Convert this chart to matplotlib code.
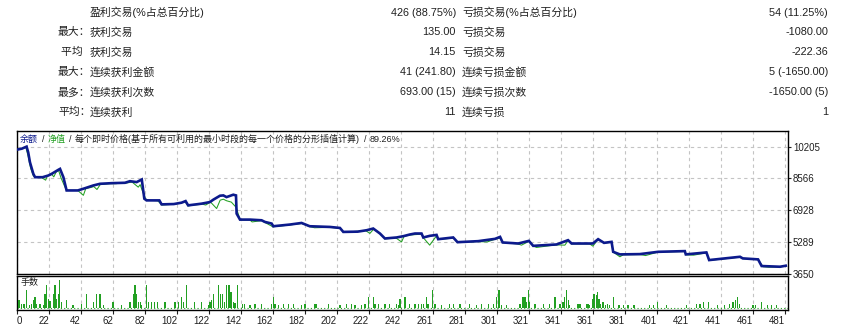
import matplotlib
matplotlib.use('Agg')
import matplotlib.pyplot as plt

plt.rcParams['font.family'] = ['Liberation Sans', 'Noto Sans CJK SC', 'DejaVu Sans']

# ---------------- data ----------------
left_prefix = ['', '最大：', ' 平均', '最大：', '最多：', '平均：']
left_labels = ['盈利交易(%占总百分比)', '获利交易', '获利交易', '连续获利金额', '连续获利次数', '连续获利']
left_values = ['426 (88.75%)', '135.00', '14.15', '41 (241.80)', '693.00 (15)', '11']
right_labels = ['亏损交易(%占总百分比)', '亏损交易', '亏损交易', '连续亏损金额', '连续亏损次数', '连续亏损']
right_values = ['54 (11.25%)', '-1080.00', '-222.36', '5 (-1650.00)', '-1650.00 (5)', '1']

title_parts = ['余额', '/', '净值', '/', '每个即时价格(基于所有可利用的最小时段的每一个价格的分形插值计算)', '/', '89.26%']

bal_x = [2, 5, 8, 9, 10.1, 12.2, 13.3, 18, 21.6, 23.7, 27.8, 28.9, 31, 33, 40, 43.5, 49.7, 53.9,
         61.2, 69.5, 72.6, 76.8, 80, 81.6, 83, 91, 92.4, 100, 104.9, 107.4, 109, 117.4, 122.6,
         124.7, 128.9, 131, 133, 137.2, 138.9, 139.3, 141.4, 147.6, 154.9, 157, 161.2, 162.2,
         172.6, 179.9, 185, 197.6, 203.9, 206, 215, 220.6, 224.7, 228.9, 232, 239.3, 243.5,
         247.6, 250.8, 254.9, 256, 260, 264.3, 265.3, 274.7, 277.4, 290.3, 300.8, 304, 305.6,
         315.4, 322, 324.7, 339.3, 346.5, 348.7, 362, 365.3, 369, 373.7, 374.7, 378.9, 391.4,
         402.8, 419.5, 420.1, 433, 434.7, 454, 455.7, 465.3, 467.5, 479, 482.6]
bal_y = [10050, 10100, 10205, 9912, 9400, 8806, 8632, 8632, 8720, 8806, 9010, 9060, 8632, 7950,
         7950, 8038, 8207, 8293, 8325, 8345, 8427, 8380, 8514, 7526, 7439, 7439, 7234, 7250,
         7321, 7403, 7183, 7270, 7352, 7474, 7679, 7695, 7608, 7731, 7695, 6758, 6450, 6450,
         6415, 6330, 6246, 6108, 6195, 6277, 6108, 6072, 6020, 5816, 5830, 5903, 5990, 5734,
         5478, 5530, 5596, 5683, 5734, 5734, 5530, 5613, 5662, 5442, 5530, 5288, 5340, 5458,
         5560, 5273, 5220, 5355, 5099, 5170, 5391, 5220, 5220, 5442, 5253, 5304, 4792, 4659,
         4674, 4792, 4828, 4659, 4760, 4367, 4536, 4454, 4402, 4060, 4024, 4075]

eq_x = [2, 5, 7.5, 9, 10.5, 12.2, 13.5, 17, 19.9, 21, 23.7, 25, 26.5, 28, 29.5, 32, 33.5, 40,
        43.5, 45, 48, 50, 52, 54, 60, 64, 68, 70, 74, 77.8, 79, 80.5, 82.5, 85, 90, 92.5, 100,
        104, 107, 109, 112, 118, 120, 123, 126.8, 129, 131, 133, 136, 139, 141.5, 147.6, 149,
        155, 157, 162, 170, 173, 180, 185, 188, 198, 204, 206, 215, 220, 222.6, 225, 229, 232,
        239, 242.4, 244, 248, 255, 256, 260, 264.3, 265.3, 275, 277.4, 290, 296, 300.8, 304,
        305.6, 315, 317.4, 322, 324.7, 326.8, 339, 344.5, 346.5, 348.7, 360, 362, 365.3, 369,
        373.7, 374.7, 378.9, 381, 391.4, 395, 402.8, 419.5, 420.1, 425, 433, 434.7, 454, 455.7,
        465.3, 468.5, 472, 479, 482.6]
eq_y = [10050, 10100, 10180, 9700, 9100, 8700, 8632, 8632, 8480, 8700, 8780, 8650, 8900, 8980,
        8600, 8120, 7950, 7950, 7700, 8050, 8100, 8150, 8000, 8250, 8300, 8300, 8350, 8330,
        8380, 8120, 8250, 7900, 7500, 7440, 7420, 7200, 7240, 7300, 7380, 7150, 7200, 7240,
        7200, 7350, 7020, 7450, 7500, 7420, 7350, 7080, 6430, 6430, 6330, 6400, 6300, 6080,
        6150, 6180, 6250, 6090, 6030, 6050, 6000, 5800, 5850, 5880, 5740, 5960, 5720, 5460,
        5500, 5300, 5590, 5660, 5700, 5520, 5135, 5620, 5430, 5500, 5270, 5320, 5300, 5440,
        5500, 5260, 5200, 5135, 5330, 5090, 5017, 5150, 5135, 5370, 5200, 5200, 5084, 5430,
        5240, 5290, 4780, 4536, 4640, 4650, 4600, 4780, 4810, 4640, 4620, 4740, 4350, 4520,
        4440, 4390, 4024, 4000, 4010, 4075]

vol_x = [3.3, 4.9, 6.3, 8, 9.6, 11.2, 12.2, 13.3, 14.3, 16.4, 18.4, 19.5, 20.5, 21.6, 22.6, 24.7,
         25.8, 26.8, 27.8, 28.4, 29.9, 33, 37, 42.4, 45.6, 49.7, 51.8, 53.9, 56, 62, 67.4, 72.6,
         74.7, 75.8, 76.8, 77.8, 79, 80, 83, 84, 86, 88, 90, 94.5, 100.8, 102.8, 105, 106, 108,
         113, 117.4, 121.6,
         122.6, 123.5, 124.7, 127.8, 129.3, 130.3, 131.5, 133, 134.5, 135.8, 137.2, 138.3, 139.7,
         142.8, 144.1, 147.6, 150.8, 154.9, 161.2, 162.2, 163.3, 165.3, 168.5, 171.6, 174.7, 180,
         182, 188.3, 189.3, 196.6, 203.9, 208, 211.2, 213.3, 217.4, 219.5, 221.6, 224.7, 225.8,
         227.8, 232, 235, 239.3, 240.3,
         241.4, 244.5, 247.6, 250.8, 252.8, 254.9, 256, 258, 259, 261.6, 263.3, 267.4, 272.6,
         274.7, 278.9, 285, 289.3, 292.4, 296.6, 299.7, 301.8, 303.3, 304.9, 308, 316.4, 318.4,
         319.5, 320.5, 321.6, 322.6, 325.8, 331, 335, 338.3, 341.4, 343.4, 344.5, 345.6, 346.6,
         347.6, 352.8, 353.9, 358, 359,
         360.1, 361.6, 362.8, 364.3, 364.9, 365.8, 367, 368.4, 369.9, 371.2, 372.6, 374.7, 378.3,
         381, 384, 387.8, 397.6, 399.7, 402.4, 408, 420.6, 426.8, 429, 431, 434.5, 440, 444.5,
         447.6, 449.7, 451.2, 452.4, 453.5, 462.2, 463.7, 467.4, 471.2, 473.6, 476.7]
vol_lots = [0.08, 0.04, 0.04, 0.18, 0.03, 0.04, 0.08, 0.11, 0.04, 0.04, 0.03, 0.14, 0.23, 0.09,
            0.07, 0.14, 0.23, 0.09, 0.14, 0.28, 0.06, 0.08, 0.03, 0.04, 0.14, 0.06, 0.14, 0.14,
            0.03, 0.06, 0.03, 0.06, 0.14, 0.23, 0.14, 0.06, 0.06, 0.03, 0.23, 0.06, 0.06, 0.06,
            0.06, 0.06, 0.06, 0.06, 0.11, 0.06, 0.23, 0.06, 0.06, 0.03,
            0.06, 0.08, 0.14, 0.23, 0.14, 0.14, 0.06, 0.23, 0.23, 0.16, 0.06, 0.05, 0.23,
            0.04, 0.04, 0.03, 0.04, 0.04, 0.04, 0.11, 0.04, 0.03, 0.04, 0.04, 0.04, 0.03,
            0.04, 0.04, 0.04, 0.04, 0.03, 0.04, 0.04, 0.03, 0.03, 0.04, 0.11, 0.11, 0.04,
            0.04, 0.04, 0.04, 0.04, 0.03,
            0.09, 0.11, 0.04, 0.04, 0.04, 0.04, 0.04, 0.11, 0.04, 0.18, 0.04, 0.03, 0.04,
            0.04, 0.04, 0.04, 0.03, 0.04, 0.04, 0.04, 0.11, 0.18, 0.03, 0.03, 0.04, 0.11,
            0.11, 0.06, 0.18, 0.06, 0.04, 0.04, 0.04, 0.11, 0.04, 0.06, 0.11, 0.18, 0.08,
            0.03, 0.04, 0.04, 0.04, 0.04,
            0.03, 0.09, 0.14, 0.13, 0.16, 0.09, 0.04, 0.06, 0.03, 0.04, 0.03, 0.11, 0.03,
            0.03, 0.03, 0.03, 0.03, 0.03, 0.06, 0.03, 0.03, 0.04, 0.04, 0.06, 0.06, 0.03, 0.03,
            0.04, 0.06, 0.08, 0.11, 0.04, 0.03, 0.03, 0.06, 0.03, 0.03, 0.03]

y_ticks = [3650, 5289, 6928, 8566, 10205]
x_tick_labels = ['0', '22', '42', '62', '82', '102', '122', '142', '162', '182', '202', '222',
                 '242', '261', '281', '301', '321', '341', '361', '381', '401', '421', '441',
                 '461', '481']

# ---------------- layout ----------------
W, H = 841, 325
fig = plt.figure(figsize=(W / 100, H / 100), dpi=100)
fig.patch.set_facecolor('white')

def fx(x):
    return x / W

def fy(y):
    return 1 - y / H

row_y = [12.7, 32.3, 52.3, 72.3, 92.3, 112.3]
fs_tab = 7.8
for i, yy in enumerate(row_y):
    if left_prefix[i]:
        fig.text(fx(58), fy(yy), left_prefix[i], fontsize=fs_tab, va='center', ha='left', color='#202020')
    fig.text(fx(90), fy(yy), left_labels[i], fontsize=fs_tab, va='center', ha='left', color='#202020')
    fig.text(fx(456), fy(yy), left_values[i], fontsize=fs_tab, va='center', ha='right', color='#202020')
    fig.text(fx(462), fy(yy), right_labels[i], fontsize=fs_tab, va='center', ha='left', color='#202020')
    fig.text(fx(828), fy(yy), right_values[i], fontsize=fs_tab, va='center', ha='right', color='#202020')

X0, X1 = 17, 788
ax = fig.add_axes([fx(X0), fy(274), (X1 - X0) / W, (274 - 131) / H])
axv = fig.add_axes([fx(X0), fy(310), (X1 - X0) / W, (310 - 276) / H])

BLUE = '#0C1A8C'
GREEN = '#22A022'
GRID = '#C4C4C4'

xmin, xmax = 2, 484
tick_pos = [xmin + 20 * i for i in range(len(x_tick_labels))]

ax.plot(eq_x, eq_y, color=GREEN, lw=0.75, zorder=2)
ax.plot(bal_x, bal_y, color=BLUE, lw=1.9, zorder=3, solid_joinstyle='miter')
ax.set_xlim(xmin, xmax)
ax.set_ylim(3650, 11010)
ax.set_yticks(y_ticks)
ax.set_yticklabels([str(v) for v in y_ticks])
ax.yaxis.tick_right()
ax.set_xticks(tick_pos)
ax.tick_params(axis='x', length=0, labelbottom=False)
ax.tick_params(axis='y', length=2, pad=1.5, labelsize=7, colors='#202020')
ax.grid(True, color=GRID, linestyle=(0, (3, 3)), lw=0.8)
for s in ax.spines.values():
    s.set_linewidth(1.0)
    s.set_color('black')

# title with coloured parts
renderer = fig.canvas.get_renderer()
title_colors = [BLUE, '#202020', GREEN, '#202020', '#202020', '#202020', '#202020']
xpos = 20
for part, col in zip(title_parts, title_colors):
    t = fig.text(fx(xpos), fy(139), part, fontsize=6.5, color=col, va='center', ha='left')
    bb = t.get_window_extent(renderer)
    xpos += bb.width + 3.5

# volume panel
axv.bar(vol_x, vol_lots, width=0.8, color=GREEN, linewidth=0, zorder=3)
axv.axhline(0.004, color=GREEN, lw=0.8, linestyle=(0, (1, 2)), zorder=2)
axv.set_xlim(xmin, xmax)
axv.set_ylim(-0.017, 0.323)
axv.set_yticks([])
axv.set_xticks(tick_pos)
axv.set_xticklabels(x_tick_labels)
axv.tick_params(axis='x', length=3, width=0.8, pad=1.5, labelsize=7, colors='#202020')
for lab in axv.get_xticklabels():
    lab.set_horizontalalignment('right')
axv.get_xticklabels()[0].set_horizontalalignment('left')
axv.grid(True, axis='x', color=GRID, linestyle=(0, (3, 3)), lw=0.8)
for s in axv.spines.values():
    s.set_linewidth(1.0)
    s.set_color('black')
axv.text(4.5, 0.26, '手数', fontsize=6.5, color='#202020', va='center', ha='left')

fig.savefig('out.png', dpi=100, facecolor='white')
